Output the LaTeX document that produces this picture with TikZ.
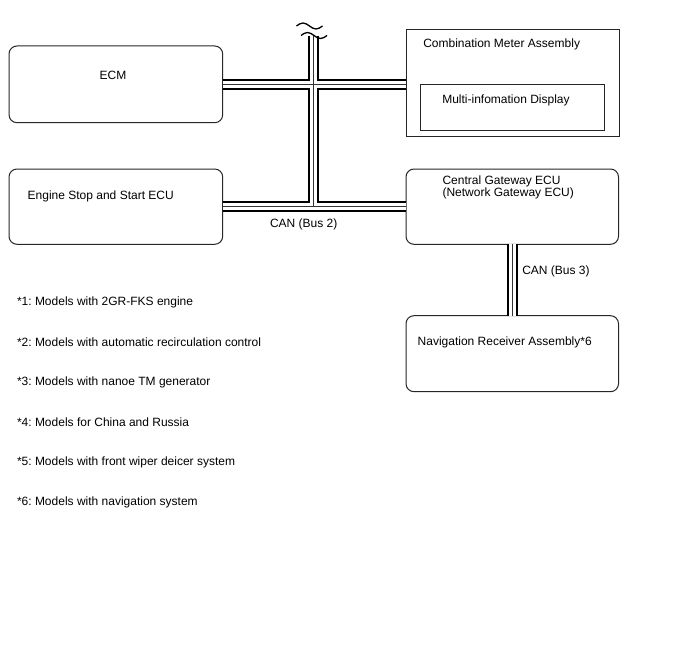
\documentclass[tikz,border=0pt]{standalone}
\usepackage{fontspec}
\setmainfont{Liberation Sans}
\frenchspacing
\begin{document}
\begin{tikzpicture}[x=1pt,y=-1pt,
  every node/.style={inner sep=0pt, outer sep=0pt, font=\fontsize{12}{12.7}\selectfont},
  rbox/.style={draw=black!85, line width=1pt, rounded corners=8pt, fill=none},
  sbox/.style={draw=black!85, line width=1pt, fill=none},
  lbl/.style={anchor=west, align=left},
  tilde/.style={draw=black, line width=1.3pt}]
\useasboundingbox (0,0) rectangle (688,658);

% boxes
\node[rbox, minimum width=213.7pt, minimum height=76.7pt] (ecm) at (115.85,84.35) {};
\node[sbox, minimum width=213pt, minimum height=106.7pt] (meter) at (512.5,83.35) {};
\node[sbox, minimum width=184pt, minimum height=46pt] (mid) at (512,108) {};
\node[rbox, minimum width=213.7pt, minimum height=75.3pt] (ess) at (115.85,206.65) {};
\node[rbox, minimum width=212.5pt, minimum height=75.3pt] (cgw) at (512.25,206.65) {};
\node[rbox, minimum width=212.5pt, minimum height=76pt] (nav) at (512.25,353.7) {};

% texts
\node (tecm) at (113,75.5) {ECM};
\node[lbl] (tmeter) at (423.3,44) {Combination Meter Assembly};
\node[lbl] (tmid) at (442.3,100) {Multi-infomation Display};
\node[lbl] (tess) at (27.7,196.8) {Engine Stop and Start ECU};
\node[lbl] (tcgw) at (442.5,187.5) {Central Gateway ECU\\(Network Gateway ECU)};
\node[lbl] (tnav) at (417.7,342.5) {Navigation Receiver Assembly*6};
\node[lbl] (tbus2) at (270,224.8) {CAN (Bus 2)};
\node[lbl] (tbus3) at (522.3,271.8) {CAN (Bus 3)};

\node[lbl] (n1) at (17,302.3) {*1: Models with 2GR-FKS engine};
\node[lbl] (n2) at (17,342.3) {*2: Models with automatic recirculation control};
\node[lbl] (n3) at (17,382.3) {*3: Models with nanoe TM generator};
\node[lbl] (n4) at (17,422.3) {*4: Models for China and Russia};
\node[lbl] (n5) at (17,462.3) {*5: Models with front wiper deicer system};
\node[lbl] (n6) at (17,502.3) {*6: Models with navigation system};

% bus junctions
\coordinate (vtop) at (313.7,36);
\coordinate (jtop) at (313.7,84.7);
\coordinate (jbot) at (313.7,206.7);

\foreach \w/\c in {11/black, 6.8/white, 1/black!80} {
  \draw[line width=\w pt, draw=\c, line cap=butt]
    (ecm.east |- jtop) -- (meter.west |- jtop)
    (ess.east |- jbot) -- (cgw.west |- jbot)
    (vtop) -- (jbot)
    (cgw.south) -- (nav.north);
}

% break marks
\draw[tilde] (296.5,26) sin (303,23) cos (309.5,26) sin (316,29) cos (322.5,26);
\draw[tilde] (301,35.5) sin (307.5,32.5) cos (314,35.5) sin (320.5,38.5) cos (327,35.5);
\end{tikzpicture}
\end{document}
